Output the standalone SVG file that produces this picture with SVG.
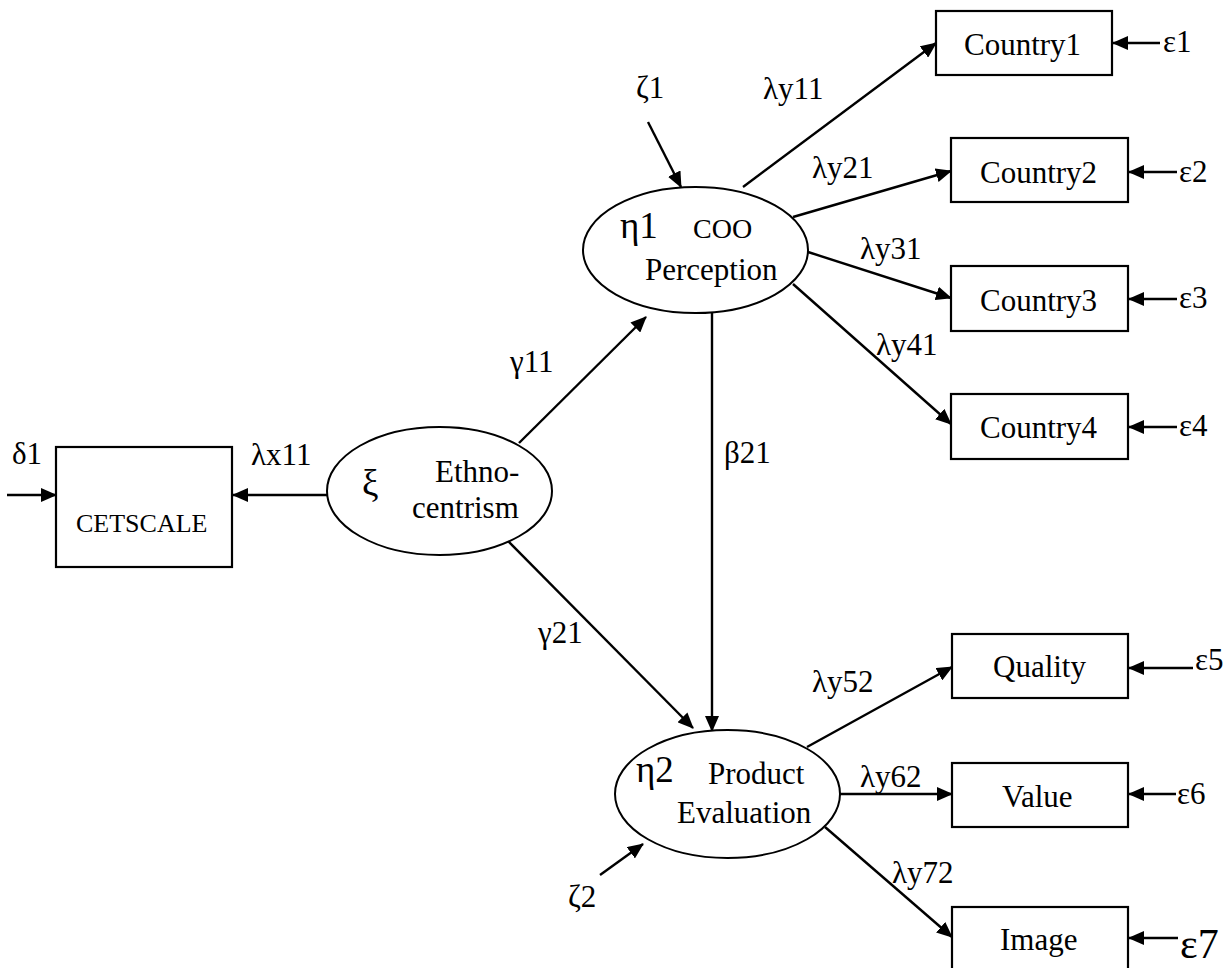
<svg xmlns="http://www.w3.org/2000/svg" width="1228" height="968" viewBox="0 0 1228 968">
<style>
text{font-family:"Liberation Serif","Times New Roman",serif;fill:#000;font-size:31px}
.box{fill:#fff;stroke:#000;stroke-width:2.2}
.ell{fill:#fff;stroke:#000;stroke-width:2}
.c line{stroke:#000;stroke-width:2.4;fill:none}
.arr{marker-end:url(#ah)}
.big{font-size:37px}
.cet{font-size:26px}
</style>
<defs>
<marker id="ah" markerUnits="userSpaceOnUse" markerWidth="16" markerHeight="14" refX="15" refY="7" orient="auto">
<path d="M0,0 L16,7 L0,14 z" fill="#000"/>
</marker>
</defs>
<g class="c" id="connectors">
<line class="arr" x1="7" y1="495" x2="56" y2="495"/>
<line class="arr" x1="329" y1="495" x2="233" y2="495"/>
<line class="arr" x1="519" y1="443" x2="646" y2="317"/>
<line class="arr" x1="505" y1="538" x2="693" y2="728"/>
<line class="arr" x1="712" y1="313" x2="712" y2="731"/>
<line class="arr" x1="648" y1="122" x2="681" y2="187"/>
<line class="arr" x1="743" y1="187" x2="936" y2="43"/>
<line class="arr" x1="793" y1="217" x2="951" y2="171"/>
<line class="arr" x1="808" y1="252" x2="951" y2="298"/>
<line class="arr" x1="793" y1="284" x2="951" y2="424"/>
<line class="arr" x1="807" y1="747" x2="952" y2="667"/>
<line class="arr" x1="840" y1="794" x2="952" y2="794"/>
<line class="arr" x1="825" y1="827" x2="952" y2="937"/>
<line class="arr" x1="600" y1="875" x2="643" y2="844"/>
<line class="arr" x1="1160" y1="43" x2="1113" y2="43"/>
<line class="arr" x1="1177" y1="172" x2="1129" y2="172"/>
<line class="arr" x1="1177" y1="299" x2="1129" y2="299"/>
<line class="arr" x1="1177" y1="427" x2="1129" y2="427"/>
<line class="arr" x1="1193" y1="668" x2="1129" y2="668"/>
<line class="arr" x1="1176" y1="794" x2="1129" y2="794"/>
<line class="arr" x1="1178" y1="938" x2="1129" y2="938"/>
</g>
<g id="labels">
<text x="12" y="464">δ1</text>
<text x="251" y="465">λx11</text>
<text x="510" y="372">γ11</text>
<text x="538" y="643">γ21</text>
<text x="724" y="463">β21</text>
<text x="636" y="98">ζ1</text>
<text x="568" y="907">ζ2</text>
<text x="763" y="99">λy11</text>
<text x="812" y="178">λy21</text>
<text x="860" y="259">λy31</text>
<text x="876" y="355">λy41</text>
<text x="812" y="692">λy52</text>
<text x="860" y="787">λy62</text>
<text x="892" y="883">λy72</text>
<text x="1163" y="52">ε1</text>
<text x="1179" y="182">ε2</text>
<text x="1179" y="308">ε3</text>
<text x="1179" y="436">ε4</text>
<text x="1195" y="670">ε5</text>
<text x="1177" y="804">ε6</text>
<text x="1180" y="958" style="font-size:42px">ε7</text>
</g>
<g id="cetscale"><rect class="box" x="56" y="447" width="176" height="120"/><text class="cet" x="76" y="532">CETSCALE</text></g>
<g id="xi"><ellipse class="ell" cx="439.5" cy="491" rx="112.5" ry="64"/><text class="big" x="362" y="496">ξ</text><text x="435" y="482">Ethno-</text><text x="412" y="518">centrism</text></g>
<g id="eta1"><ellipse class="ell" cx="695.5" cy="250" rx="112.5" ry="63"/><text class="big" x="620" y="238">η1</text><text x="693" y="238" style="font-size:28px">COO</text><text x="645" y="280">Perception</text></g>
<g id="eta2"><ellipse class="ell" cx="727.5" cy="794" rx="112.5" ry="64"/><text class="big" x="636" y="782">η2</text><text x="708" y="784">Product</text><text x="677" y="823">Evaluation</text></g>
<g id="country1"><rect class="box" x="936" y="11" width="176" height="64"/><text x="964" y="55">Country1</text></g>
<g id="country2"><rect class="box" x="951" y="138" width="177" height="64"/><text x="980" y="183">Country2</text></g>
<g id="country3"><rect class="box" x="951" y="266" width="177" height="65"/><text x="980" y="311">Country3</text></g>
<g id="country4"><rect class="box" x="951" y="394" width="177" height="65"/><text x="980" y="438">Country4</text></g>
<g id="quality"><rect class="box" x="952" y="634" width="176" height="64"/><text x="993" y="677">Quality</text></g>
<g id="value"><rect class="box" x="952" y="763" width="176" height="64"/><text x="1002" y="807">Value</text></g>
<g id="image"><rect class="box" x="952" y="907" width="176" height="64"/><text x="1000" y="950">Image</text></g>
</svg>
